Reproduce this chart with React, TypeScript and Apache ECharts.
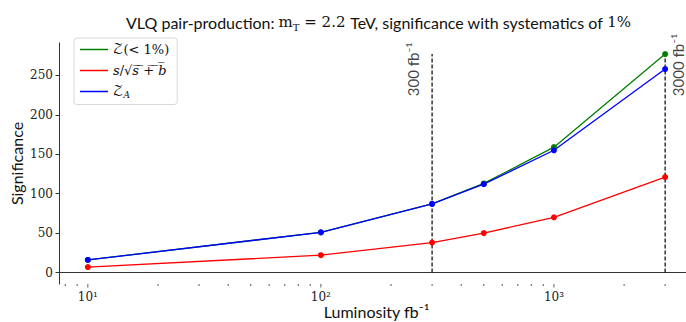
import React, { useEffect, useRef } from 'react';
import * as echarts from 'echarts';

const luminosity = [10, 100, 300, 500, 1000, 3000];
const zSys = [16, 51, 87, 113, 159, 277];
const sOverSqrt = [7, 22, 38, 50, 70, 121];
const zAsimov = [16, 51, 87, 112, 155, 258];
const yTicks = [0, 50, 100, 150, 200, 250];
const xMajorTicks = [10, 100, 1000];
const xMinorTicks = [8, 9, 20, 30, 40, 50, 60, 70, 80, 90, 200, 300, 400, 500, 600, 700, 800, 900, 2000, 3000];
const benchmarkLumi = [300, 3000];
const benchmarkLabels = ['300 fb⁻¹', '3000 fb⁻¹'];
const benchmarkTop = 277;
const benchmarkLabelY = 223;
const xMin = 7.52;
const xMax = 3990;
const yMin = -14.5;
const yMax = 291;

const SANS = 'Lato, "DejaVu Sans", sans-serif';
const SERIF = '"DejaVu Serif", "Liberation Serif", serif';
const MATH = '"DejaVu Math TeX Gyre", "DejaVu Serif", serif';

const supers: Record<string, string> = { '1': '¹', '2': '²', '3': '³' };

export default function App() {
  const ref = useRef<HTMLDivElement>(null);
  useEffect(() => {
    if (!ref.current) return;
    const chart = echarts.init(ref.current, undefined, { renderer: 'svg' });
    const mk = (name: string, color: string, ys: number[]) => ({
      name,
      type: 'line',
      data: luminosity.map((x, i) => [x, ys[i]]),
      symbol: 'circle',
      symbolSize: 6,
      itemStyle: { color },
      lineStyle: { color, width: 1.3 },
      silent: true,
    });
    const legendRich = {
      z: { fontFamily: MATH, fontSize: 13, color: '#111', lineHeight: 16 },
      n: { fontFamily: SERIF, fontSize: 13, color: '#111', lineHeight: 16 },
      i: { fontFamily: SERIF, fontStyle: 'italic', fontSize: 13, color: '#111', lineHeight: 16 },
      sub: { fontFamily: SERIF, fontStyle: 'italic', fontSize: 9, color: '#111', lineHeight: 16, verticalAlign: 'bottom' },
    };
    const legendText: Record<string, string> = {
      'Z(<1%)': '{z|𝒵}{n|(< 1%)}',
      's/sqrt(s+b)': '{i|s}{n|/√}{i|s̅ ̅+̅ ̅b̅}',
      'Z_A': '{z|𝒵}{sub|A}',
    };
    chart.setOption({
      animation: false,
      backgroundColor: '#fff',
      title: {
        text: '{s|VLQ pair-production: }{m|m}{sub|T}{m| = 2.2 }{s|TeV, significance with systematics of }{m|1%}',
        left: 121,
        top: 7,
        textStyle: {
          fontWeight: 'normal',
          rich: {
            s: { fontFamily: SANS, fontSize: 16, fontWeight: 'normal', color: '#111', lineHeight: 20 },
            m: { fontFamily: SERIF, fontSize: 15, fontWeight: 'normal', color: '#111', lineHeight: 20 },
            sub: { fontFamily: SERIF, fontSize: 10, fontWeight: 'normal', color: '#111', lineHeight: 20, verticalAlign: 'bottom' },
          },
        },
      },
      legend: {
        data: ['Z(<1%)', 's/sqrt(s+b)', 'Z_A'],
        orient: 'vertical',
        left: 74,
        top: 38,
        padding: [5, 8, 5, 6],
        itemGap: 8,
        itemWidth: 28,
        itemHeight: 1.5,
        icon: 'rect',
        borderColor: '#d8d8d8',
        borderWidth: 1,
        borderRadius: 3,
        formatter: (name: string) => legendText[name],
        textStyle: { rich: legendRich },
      },
      grid: { left: 59, right: -8, top: 43, bottom: 38, outerBoundsMode: 'none', containLabel: false },
      xAxis: {
        type: 'log',
        min: xMin,
        max: xMax,
        name: 'Luminosity fb⁻¹',
        nameLocation: 'middle',
        nameGap: 19,
        nameMoveOverlap: false,
        nameTextStyle: { fontFamily: SANS, fontSize: 16, color: '#111' },
        axisLine: { lineStyle: { color: '#333', width: 1 } },
        axisTick: { show: false },
        splitLine: { show: false },
        axisLabel: {
          margin: 7,
          fontFamily: SERIF,
          fontSize: 12,
          color: '#222',
          formatter: (v: number) => {
            const e = Math.round(Math.log10(v));
            if (Math.abs(Math.log10(v) - e) < 1e-6 && supers[String(e)]) return '10' + supers[String(e)];
            return '';
          },
        },
      },
      yAxis: {
        type: 'value',
        min: yMin,
        max: yMax,
        name: 'Significance',
        nameLocation: 'middle',
        nameGap: 35,
        nameRotate: 90,
        nameMoveOverlap: false,
        nameTextStyle: { fontFamily: SANS, fontSize: 16, color: '#111' },
        axisLine: { show: true, lineStyle: { color: '#333', width: 1 } },
        axisTick: { show: true, length: 3.5, customValues: yTicks, lineStyle: { color: '#333' } },
        splitLine: { show: false },
        axisLabel: { customValues: yTicks, margin: 6, fontFamily: SERIF, fontSize: 12, color: '#222' },
      },
      series: [
        {
          type: 'custom',
          silent: true,
          clip: false,
          data: [...xMajorTicks.map((v) => [v, 1]), ...xMinorTicks.map((v) => [v, 0])],
          renderItem: (params: any, api: any) => {
            const p = api.coord([api.value(0), yMin]);
            const len = api.value(1) ? 3.5 : 2;
            return {
              type: 'line',
              shape: { x1: p[0], y1: p[1], x2: p[0], y2: p[1] + len },
              style: { stroke: '#333', lineWidth: 0.8 },
            };
          },
        },
        ...benchmarkLumi.map((x) => ({
          type: 'line',
          silent: true,
          data: [[x, 0], [x, benchmarkTop]],
          symbol: 'none',
          lineStyle: { color: '#000', width: 1.2, type: [4, 2] },
          z: 1,
        })),
        {
          type: 'scatter',
          silent: true,
          symbolSize: 1,
          itemStyle: { color: 'rgba(0,0,0,0)' },
          data: benchmarkLumi.map((x, i) => ({
            value: [x, benchmarkLabelY],
            label: {
              show: true,
              formatter: benchmarkLabels[i],
              rotate: 90,
              position: i === 0 ? [-11, 0] : [6, 0],
              align: 'left',
              verticalAlign: i === 0 ? 'bottom' : 'top',
              fontFamily: SANS,
              fontSize: 15,
              color: '#111',
            },
          })),
        },
        mk('Z(<1%)', '#008000', zSys),
        mk('s/sqrt(s+b)', '#ff0000', sOverSqrt),
        mk('Z_A', '#0000ff', zAsimov),
      ],
    });
    return () => chart.dispose();
  }, []);
  return <div ref={ref} style={{ width: 686, height: 322, position: 'absolute', left: 0, top: 0 }} />;
}
